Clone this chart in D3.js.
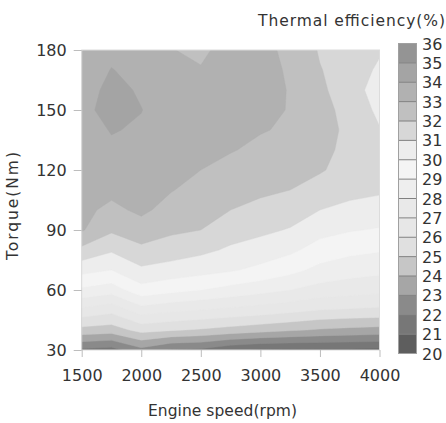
<!DOCTYPE html>
<html>
<head>
<meta charset="utf-8">
<script src="https://cdn.jsdelivr.net/npm/d3@7"></script>
<style>
  body { margin: 0; background: #fff; }
  text { font-family: "DejaVu Sans", "Liberation Sans", sans-serif; fill: #333; }
</style>
</head>
<body>
<div id="chart"></div>
<script>
// engine map grid: columns = speeds, rows = torques
const speeds = [1500, 1750, 2000, 2250, 2500, 2750, 3000, 3250, 3500, 3750, 4000];
const torques = [30, 40, 50, 60, 70, 80, 90, 100, 110, 120, 130, 140, 150, 160, 170, 180];

// thermal efficiency (%) per torque row
const efficiency = [
  [21.8, 21.6, 22.7, 21.9, 21.8, 21.2, 20.9, 20.85, 20.85, 20.85, 20.8],   // 30
  [24.67, 24.5, 25.34, 25.1, 24.89, 24.63, 24.38, 24.13, 23.9, 23.75, 23.65], // 40
  [26.77, 26.33, 27.56, 27.22, 27.0, 26.78, 26.56, 26.3, 26.0, 25.9, 25.8],   // 50
  [28.8, 28.45, 29.62, 29.27, 29.0, 28.64, 28.33, 28.0, 27.62, 27.44, 27.3],  // 60
  [30.33, 30.0, 30.82, 30.6, 30.36, 30.11, 29.75, 29.3, 28.7, 28.42, 28.25],  // 70
  [31.75, 31.12, 31.77, 31.5, 31.23, 30.85, 30.57, 30.21, 29.58, 29.25, 29.08], // 80
  [33.1, 32.15, 32.56, 32.18, 32.0, 31.44, 31.21, 30.93, 30.33, 30.07, 29.92], // 90
  [33.25, 32.76, 33.2, 32.64, 32.33, 32.0, 31.74, 31.47, 31.0, 30.73, 30.56],  // 100
  [33.35, 33.25, 33.4, 33.05, 32.67, 32.37, 32.17, 32.0, 31.56, 31.3, 31.15],  // 110
  [33.45, 33.55, 33.6, 33.3, 33.0, 32.74, 32.5, 32.35, 32.1, 31.6, 31.35],     // 120
  [33.55, 33.85, 33.75, 33.45, 33.15, 33.05, 32.83, 32.65, 32.25, 31.75, 31.3], // 130
  [33.62, 34.05, 33.9, 33.55, 33.25, 33.15, 33.05, 32.9, 32.35, 31.8, 31.05],  // 140
  [33.65, 34.45, 34.02, 33.6, 33.3, 33.2, 33.15, 32.97, 32.4, 31.6, 30.8],     // 150
  [33.6, 34.25, 33.9, 33.45, 33.25, 33.25, 33.2, 32.97, 32.25, 31.3, 30.7],    // 160
  [33.5, 34.03, 33.75, 33.25, 33.05, 33.3, 33.2, 32.93, 32.05, 31.5, 30.85],   // 170
  [33.4, 33.8, 33.6, 33.03, 32.85, 33.3, 33.15, 32.88, 31.9, 31.65, 31.1]      // 180
];

const levels = [20, 21, 22, 23, 24, 25, 26, 27, 28, 29, 30, 31, 32, 33, 34, 35, 36];
// fill of band [level, level+1)
const bandColors = ["#5e5e5e", "#777777", "#8a8a8a", "#a6a6a6", "#c6c6c6", "#e0e0e0",
                    "#e7e7e7", "#e9e9e9", "#eeeeee", "#f4f4f4", "#ededed", "#d7d7d7",
                    "#c0c0c0", "#b1b1b1", "#a4a4a4", "#949494"];

const xTicks = [1500, 2000, 2500, 3000, 3500, 4000];
const yTicks = [30, 60, 90, 120, 150, 180];

const width = 446, height = 423;
const plot = {left: 81.7, right: 379.5, top: 50, bottom: 350};

let svg = d3.select("#chart").append("svg")
    .attr("width", width)
    .attr("height", height);

let x = d3.scaleLinear().domain([1500, 4000]).range([plot.left, plot.right]);
let y = d3.scaleLinear().domain([30, 180]).range([plot.bottom, plot.top]);

svg.append("clipPath").attr("id", "clip")
  .append("rect")
    .attr("x", plot.left).attr("y", plot.top)
    .attr("width", plot.right - plot.left).attr("height", plot.bottom - plot.top);

// pad grid by one cell on every side so the edges interpolate right
const nx = speeds.length + 2, ny = torques.length + 2;
const clampI = (v, n) => Math.max(0, Math.min(n - 1, v));
let grid = [];
for (let j = -1; j <= torques.length; j++) {
  let row = efficiency[clampI(j, torques.length)];
  for (let i = -1; i <= speeds.length; i++) grid.push(row[clampI(i, speeds.length)]);
}

const dS = speeds[1] - speeds[0], dT = torques[1] - torques[0];
const proj = d3.geoTransform({
  point: function(px, py) {
    this.stream.point(x(speeds[0] + (px - 1.5) * dS), y(torques[0] + (py - 1.5) * dT));
  }
});
const path = d3.geoPath(proj);

let contours = d3.contours()
    .size([nx, ny])
    .thresholds(levels.slice(0, -1))(grid);

let map = svg.append("g").attr("clip-path", "url(#clip)");
map.selectAll("path")
  .data(contours)
  .enter().append("path")
    .attr("d", path)
    .attr("fill", (d, i) => bandColors[i])
    .attr("stroke", (d, i) => bandColors[i])
    .attr("stroke-width", 0.4);

// light frame round the plot
svg.append("rect")
    .attr("x", plot.left).attr("y", plot.top)
    .attr("width", plot.right - plot.left).attr("height", plot.bottom - plot.top)
    .attr("fill", "none")
    .attr("stroke", "#dcdcdc");

// axes
let xAxis = svg.append("g")
    .attr("transform", `translate(0, ${plot.bottom})`)
    .call(d3.axisBottom(x).tickValues(xTicks).tickSize(7).tickPadding(13).tickFormat(d3.format("d")));
let yAxis = svg.append("g")
    .attr("transform", `translate(${plot.left}, 0)`)
    .call(d3.axisLeft(y).tickValues(yTicks).tickSize(8).tickPadding(7));

[xAxis, yAxis].forEach(a => {
  a.select(".domain").remove();
  a.selectAll(".tick line").attr("stroke", "#bdbdbd");
  a.selectAll(".tick text")
      .style("font-family", "'DejaVu Sans', sans-serif")
      .style("font-size", "16px")
      .attr("fill", "#333");
});

// axis titles
svg.append("text")
    .attr("x", 148).attr("y", 416)
    .attr("textLength", 149)
    .attr("lengthAdjust", "spacing")
    .style("font-size", "15.5px")
    .text("Engine speed(rpm)");

svg.append("text")
    .attr("transform", `translate(18, 260) rotate(-90)`)
    .attr("textLength", 108)
    .attr("lengthAdjust", "spacing")
    .style("font-size", "15.5px")
    .text("Torque(Nm)");

// colour bar
const bar = {x: 398.5, w: 18, top: 43.5, bottom: 353.5};
let c = d3.scaleLinear().domain([20, 36]).range([bar.bottom, bar.top]);
let legend = svg.append("g");

legend.selectAll("rect")
  .data(bandColors)
  .enter().append("rect")
    .attr("x", bar.x)
    .attr("y", (d, i) => c(levels[i + 1]))
    .attr("width", bar.w)
    .attr("height", (d, i) => c(levels[i]) - c(levels[i + 1]))
    .attr("fill", d => d);

legend.selectAll("line")
  .data(levels.slice(1, -1))
  .enter().append("line")
    .attr("x1", bar.x).attr("x2", bar.x + bar.w)
    .attr("y1", d => c(d)).attr("y2", d => c(d))
    .attr("stroke", "#808080")
    .attr("stroke-width", 1);

legend.append("rect")
    .attr("x", bar.x).attr("y", bar.top)
    .attr("width", bar.w).attr("height", bar.bottom - bar.top)
    .attr("fill", "none")
    .attr("stroke", "#a0a0a0");

legend.selectAll("text")
  .data(levels)
  .enter().append("text")
    .attr("x", 422)
    .attr("y", d => c(d))
    .attr("dy", "0.38em")
    .style("font-size", "16px")
    .text(d => d);

svg.append("text")
    .attr("x", 258).attr("y", 26)
    .attr("textLength", 187)
    .attr("lengthAdjust", "spacing")
    .style("font-size", "15.5px")
    .text("Thermal efficiency(%)");
</script>
</body>
</html>
